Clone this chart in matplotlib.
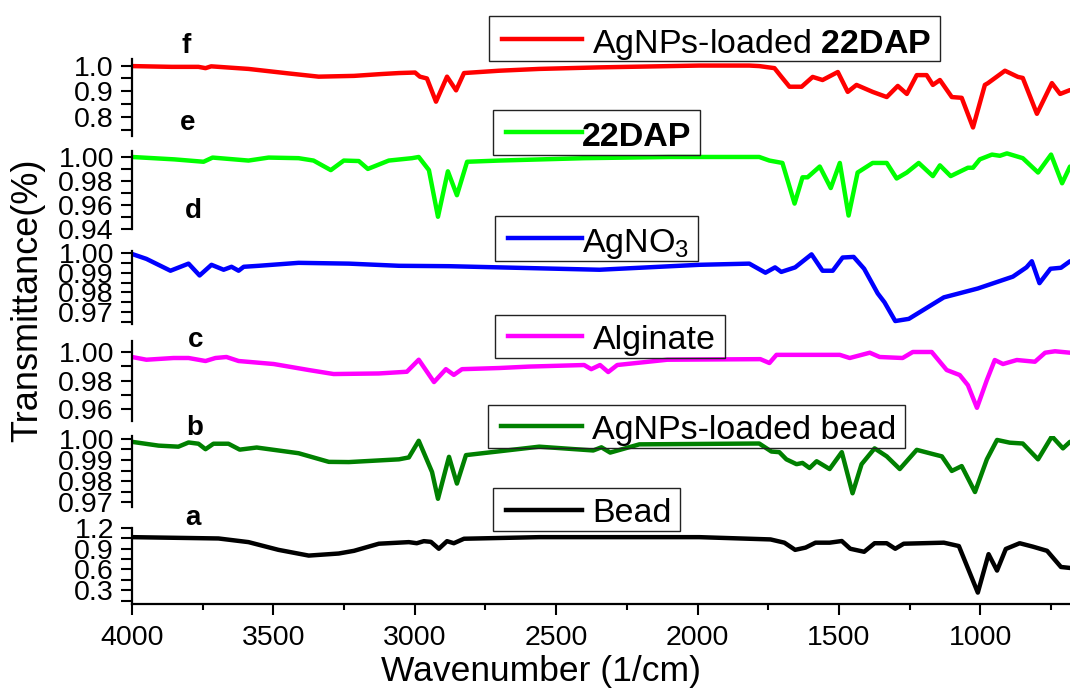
import matplotlib
matplotlib.use("Agg")
import matplotlib.pyplot as plt
from matplotlib.ticker import MultipleLocator, FormatStrFormatter
from matplotlib.patches import Rectangle
from matplotlib.lines import Line2D

plt.rcParams['font.family'] = 'Liberation Sans'
plt.rcParams['mathtext.fontset'] = 'custom'
plt.rcParams['mathtext.rm'] = 'Liberation Sans'
plt.rcParams['mathtext.bf'] = 'Liberation Sans:bold'

# FTIR spectra, wavenumber (1/cm) vs transmittance
wn_f = [4000, 3860, 3765, 3740, 3720, 3588, 3450, 3340, 3215, 3120, 3056, 2999, 2982, 2957,
        2925, 2886, 2854, 2826, 2702, 2560, 2347, 1994, 1817, 1782, 1728, 1704, 1675, 1632,
        1593, 1558, 1504, 1469, 1438, 1381, 1331, 1292, 1260, 1225, 1190, 1168, 1143, 1101,
        1066, 1026, 984, 973, 913, 867, 850, 800, 747, 718, 683]
t_f = [0.998, 0.995, 0.995, 0.990, 0.997, 0.987, 0.970, 0.957, 0.960, 0.967, 0.971, 0.973, 0.957, 0.950,
       0.860, 0.957, 0.904, 0.971, 0.980, 0.987, 0.993, 1.000, 1.000, 0.998, 0.990, 0.957, 0.918, 0.918,
       0.956, 0.944, 0.975, 0.898, 0.925, 0.898, 0.878, 0.921, 0.890, 0.963, 0.963, 0.925, 0.944, 0.878,
       0.875, 0.760, 0.925, 0.932, 0.980, 0.956, 0.952, 0.813, 0.932, 0.890, 0.905]

wn_e = [4000, 3850, 3747, 3715, 3588, 3517, 3411, 3358, 3297, 3251, 3198, 3166, 3092, 3010,
        2986, 2950, 2918, 2883, 2851, 2815, 2702, 2400, 2100, 1782, 1746, 1700, 1657, 1629,
        1611, 1568, 1529, 1497, 1466, 1434, 1381, 1331, 1296, 1260, 1218, 1168, 1143, 1105,
        1044, 1026, 1002, 959, 931, 906, 850, 796, 750, 711, 683]
t_e = [1.000, 0.998, 0.996, 0.9995, 0.997, 0.9995, 0.999, 0.997, 0.989, 0.997, 0.9966, 0.990, 0.997, 0.999,
       1.000, 0.989, 0.950, 0.988, 0.968, 0.996, 0.997, 0.999, 1.000, 1.000, 0.997, 0.995, 0.961, 0.983,
       0.983, 0.992, 0.974, 0.995, 0.951, 0.987, 0.995, 0.995, 0.982, 0.987, 0.995, 0.984, 0.993, 0.984,
       0.991, 0.991, 0.998, 1.002, 1.001, 1.003, 0.999, 0.987, 1.002, 0.978, 0.992]

wn_d = [4000, 3949, 3864, 3800, 3761, 3719, 3676, 3648, 3623, 3605, 3552, 3411, 3233, 3056,
        2879, 2702, 2347, 1994, 1817, 1760, 1726, 1704, 1655, 1597, 1558, 1522, 1487, 1448,
        1411, 1363, 1339, 1301, 1253, 1129, 1009, 885, 837, 818, 791, 752, 715, 683]
t_d = [0.9995, 0.997, 0.991, 0.9946, 0.9886, 0.994, 0.9915, 0.993, 0.991, 0.993, 0.9935, 0.995, 0.9946, 0.9935,
       0.9933, 0.9927, 0.9915, 0.994, 0.9946, 0.990, 0.9927, 0.9904, 0.9927, 0.9993, 0.991, 0.991, 0.9977, 0.998,
       0.992, 0.9795, 0.975, 0.9655, 0.9666, 0.9775, 0.982, 0.988, 0.9927, 0.9958, 0.9847, 0.992, 0.9925, 0.9958]

wn_c = [4000, 3949, 3853, 3800, 3740, 3705, 3666, 3623, 3499, 3375, 3287, 3127, 3028, 2986,
        2932, 2890, 2862, 2833, 2702, 2596, 2401, 2376, 2345, 2316, 2284, 2107, 1778, 1746,
        1721, 1497, 1462, 1391, 1356, 1275, 1239, 1172, 1119, 1073, 1044, 1012, 977, 949,
        920, 871, 807, 771, 736, 683]
t_c = [0.9965, 0.9946, 0.9958, 0.9958, 0.9937, 0.9958, 0.9965, 0.9937, 0.9916, 0.9874, 0.9846, 0.985, 0.9862, 0.9946,
       0.979, 0.988, 0.984, 0.988, 0.9888, 0.9898, 0.9909, 0.988, 0.9909, 0.986, 0.9909, 0.9946, 0.995, 0.9923,
       0.998, 0.998, 0.9958, 0.9995, 0.9965, 0.9958, 1.000, 1.000, 0.9874, 0.9839, 0.9768, 0.961, 0.9804, 0.9944,
       0.9916, 0.9944, 0.9932, 0.9995, 1.0005, 0.9995]

wn_b = [4000, 3906, 3836, 3800, 3765, 3740, 3712, 3659, 3619, 3559, 3411, 3304, 3233, 3056,
        3021, 2986, 2939, 2918, 2879, 2851, 2819, 2702, 2560, 2369, 2340, 2309, 2206, 1782,
        1739, 1711, 1686, 1650, 1629, 1604, 1579, 1533, 1490, 1452, 1420, 1374, 1331, 1285,
        1225, 1168, 1136, 1101, 1066, 1019, 977, 941, 896, 850, 796, 747, 708, 683]
t_b = [0.9986, 0.9968, 0.9963, 0.9983, 0.9977, 0.9951, 0.9977, 0.9977, 0.9949, 0.9959, 0.9932, 0.9891, 0.989, 0.9903,
       0.9912, 0.9991, 0.9843, 0.9716, 0.9915, 0.9788, 0.9923, 0.9941, 0.9963, 0.9945, 0.996, 0.9935, 0.9974, 0.9978,
       0.994, 0.9937, 0.9903, 0.988, 0.9886, 0.9862, 0.9894, 0.9857, 0.9937, 0.9742, 0.988, 0.9955, 0.9917, 0.9857,
       0.9948, 0.9928, 0.9917, 0.9848, 0.9871, 0.9748, 0.9903, 0.9995, 0.9982, 0.9978, 0.9903, 1.0012, 0.9955, 0.9986]

wn_a = [4000, 3694, 3588, 3482, 3375, 3269, 3215, 3127, 3021, 2993, 2968, 2943, 2915, 2886,
        2862, 2826, 2560, 1994, 1742, 1693, 1655, 1618, 1583, 1533, 1490, 1460, 1411, 1374,
        1331, 1301, 1271, 1129, 1076, 1009, 971, 941, 910, 861, 814, 764, 715, 683]
t_a = [1.068, 1.049, 0.996, 0.884, 0.801, 0.831, 0.870, 0.973, 0.996, 0.980, 1.010, 1.000, 0.900, 1.010,
       0.980, 1.045, 1.068, 1.068, 1.035, 0.988, 0.884, 0.917, 0.988, 0.988, 1.012, 0.900, 0.856, 0.980,
       0.980, 0.900, 0.973, 0.988, 0.939, 0.265, 0.822, 0.584, 0.897, 0.980, 0.930, 0.870, 0.636, 0.622]

labels = [r'AgNPs-loaded $\mathbf{22DAP}$', '22DAP', r'AgNO$_\mathrm{3}$',
          'Alginate', 'AgNPs-loaded bead', 'Bead']
letters = ['f', 'e', 'd', 'c', 'b', 'a']
colors = ['#ff0000', '#00ff00', '#0000ff', '#ff00ff', '#008000', '#000000']
series = [(wn_f, t_f), (wn_e, t_e), (wn_d, t_d), (wn_c, t_c), (wn_b, t_b), (wn_a, t_a)]

W, H = 1070, 693
fig = plt.figure(figsize=(W / 100, H / 100), dpi=100)


def fx(px):
    return px / W


def fy(py):
    return 1 - py / H


# panel layout in pixels: (top, bottom), y-limits, major/minor step, tick format
layout = [
    ((58.6, 136.0), (0.727, 1.027), 0.1, 0.05, '%.1f'),
    ((151.0, 229.3), (0.9395, 1.005), 0.02, 0.01, '%.2f'),
    ((251.0, 324.0), (0.964, 1.001), 0.01, 0.005, '%.2f'),
    ((341.4, 420.7), (0.952, 1.0074), 0.02, 0.01, '%.2f'),
    ((435.5, 507.0), (0.9677, 1.0016), 0.01, 0.005, '%.2f'),
    ((528.0, 604.0), (0.1, 1.2005), 0.3, 0.15, '%.1f'),
]
letter_pos = [(186, 46), (188, 123), (193, 211), (196, 340), (195, 428), (193, 518)]
# legend boxes: left edge, top, bottom, gap between line and text
legend_pos = [(488.5, 16.5, 61.4, 10), (493, 110, 154.5, 0), (495, 215.5, 260.7, 0),
              (495, 314.8, 358, 11), (488, 404.5, 447.6, 10), (493, 488, 531, 10)]
LEFT = 132

axes = []
for i, ((top, bot), ylim, major, minor, fmt) in enumerate(layout):
    ax = fig.add_axes([fx(LEFT), fy(bot), fx(W - LEFT), (bot - top) / H])
    ax.patch.set_alpha(0)
    wn, tr = series[i]
    ax.plot(wn, tr, color=colors[i], lw=3.2, solid_joinstyle='round', solid_capstyle='round')
    ax.set_xlim(4000, 683)
    ax.set_ylim(*ylim)
    ax.yaxis.set_major_locator(MultipleLocator(major))
    ax.yaxis.set_minor_locator(MultipleLocator(minor))
    ax.yaxis.set_major_formatter(FormatStrFormatter(fmt))
    for s in ['top', 'right']:
        ax.spines[s].set_visible(False)
    ax.spines['left'].set_linewidth(1.6)
    ax.tick_params(axis='y', which='both', direction='out', length=8, width=1.5,
                   labelsize=20.5, pad=5)
    if i < len(layout) - 1:
        ax.spines['bottom'].set_visible(False)
        ax.tick_params(axis='x', which='both', bottom=False, labelbottom=False)
    else:
        ax.spines['bottom'].set_linewidth(1.6)
        ax.xaxis.set_major_locator(MultipleLocator(500))
        ax.xaxis.set_minor_locator(MultipleLocator(250))
        ax.tick_params(axis='x', which='major', direction='out', length=8, width=1.5,
                       labelsize=20.5, pad=7)
        ax.tick_params(axis='x', which='minor', direction='out', length=4, width=1.5)
    axes.append(ax)

renderer = fig.canvas.get_renderer()
for i, (x0, top, bot, gap) in enumerate(legend_pos):
    yc = (top + bot) / 2
    fig.add_artist(Line2D([fx(x0 + 13), fx(582)], [fy(yc), fy(yc)], color=colors[i], lw=3.2))
    weight = 'bold' if labels[i] == '22DAP' else 'normal'
    txt = fig.text(fx(582 + gap), fy(bot - 8.6), labels[i], fontsize=24.5,
                   fontweight=weight, ha='left', va='baseline')
    right = txt.get_window_extent(renderer).x1 + 9
    fig.add_artist(Rectangle((fx(x0), fy(bot)), (right - x0) / W, (bot - top) / H,
                             transform=fig.transFigure, fill=False,
                             edgecolor='#222222', lw=1.0))
    lx, ly = letter_pos[i]
    fig.text(fx(lx), fy(ly), letters[i], fontsize=20, fontweight='bold',
             ha='center', va='center')

fig.text(fx(28), fy(300), 'Transmittance(%)', rotation=90, fontsize=26,
         ha='center', va='center')
fig.text(fx(541), fy(672), 'Wavenumber (1/cm)', fontsize=25.5, ha='center', va='center')

fig.savefig('out.png', dpi=100)
